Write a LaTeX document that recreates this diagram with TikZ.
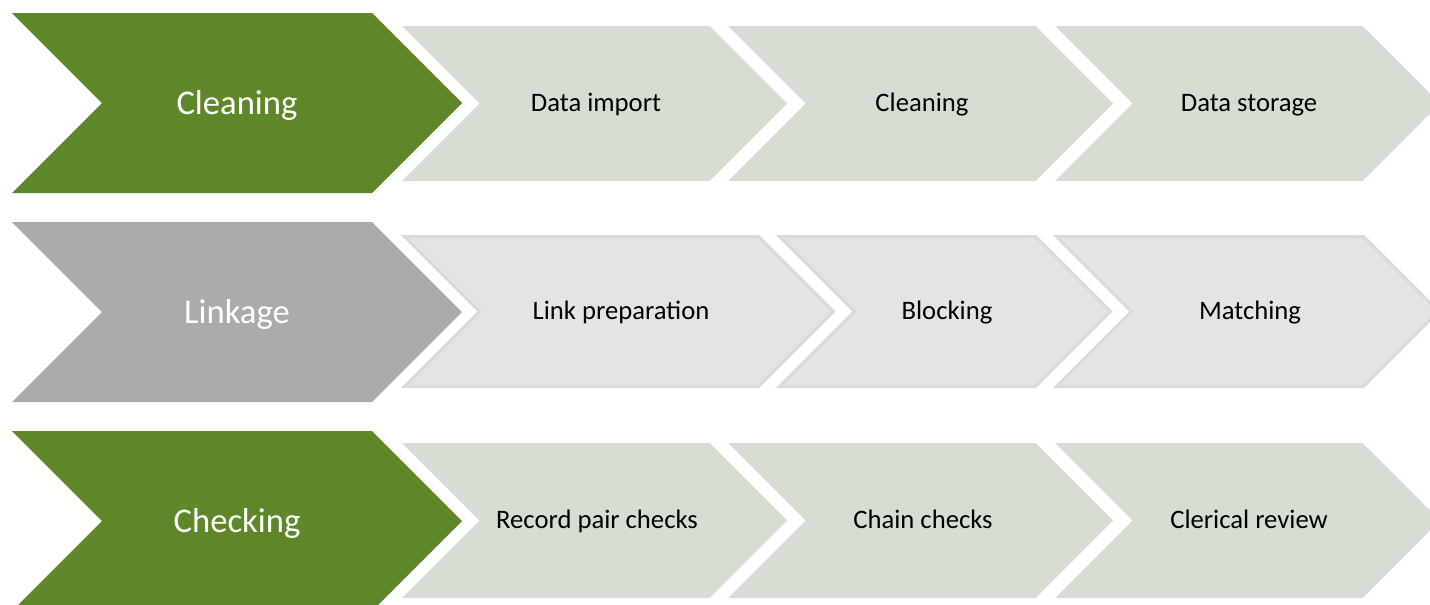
\documentclass[tikz,border=0pt]{standalone}
\usepackage{fontspec}
\setmainfont{Carlito}

\definecolor{phasegreen}{RGB}{94,135,41}
\definecolor{phasegrey}{RGB}{171,171,173}
\definecolor{stepsage}{RGB}{214,221,211}
\definecolor{steplight}{RGB}{228,228,228}

% chevron: style, left x, tip x, middle y, half height
\newcommand{\chevron}[5]{%
  \path[#1] (#2,#4-#5) -- (#3-#5,#4-#5) -- (#3,#4) -- (#3-#5,#4+#5)
    -- (#2,#4+#5) -- (#2+#5,#4) -- cycle;}

\begin{document}
\begin{tikzpicture}[x=0.75pt, y=-0.75pt,
    phase/.style={fill=phasegreen},
    phasegrey/.style={fill=phasegrey},
    stepbox/.style={fill=stepsage},
    steplink/.style={fill=steplight, draw=stepsage, line width=2.25pt, line join=miter},
    phaselabel/.style={anchor=base, text=white, font=\fontsize{26}{31}\selectfont},
    steplabel/.style={anchor=base, text=black, font=\fontsize{20}{24}\selectfont}]
  \useasboundingbox (0,0) rectangle (1430,604);
  \clip (0,0) rectangle (1430,604);

  % Cleaning row
  \chevron{phase}{12}{462}{103}{90}
  \chevron{stepbox}{402}{787}{103.5}{77.5}
  \chevron{stepbox}{728}{1113}{103.5}{77.5}
  \chevron{stepbox}{1055}{1440}{103.5}{77.5}
  \node[phaselabel] (clean) at (237,114) {Cleaning};
  \node[steplabel] (import) at (596,111) {Data import};
  \node[steplabel] (cleanstep) at (922,111) {Cleaning};
  \node[steplabel] (storage) at (1249,111) {Data storage};

  % Linkage row
  \chevron{phasegrey}{12}{462}{312}{90}
  \chevron{steplink}{404.5}{833.5}{311.5}{75}
  \chevron{steplink}{779.5}{1110.5}{311.5}{75}
  \chevron{steplink}{1056.5}{1438.5}{311.5}{75}
  \node[phaselabel] (link) at (237,323) {Linkage};
  \node[steplabel] (prep) at (621,319) {Link preparation};
  \node[steplabel] (block) at (947,319) {Blocking};
  \node[steplabel] (match) at (1250,319) {Matching};

  % Checking row
  \chevron{phase}{12}{462}{521}{90}
  \chevron{stepbox}{402}{787}{520.5}{77.5}
  \chevron{stepbox}{728}{1113}{520.5}{77.5}
  \chevron{stepbox}{1055}{1440}{520.5}{77.5}
  \node[phaselabel] (check) at (237,532) {Checking};
  \node[steplabel] (pairs) at (597,528) {Record pair checks};
  \node[steplabel] (chains) at (923,528) {Chain checks};
  \node[steplabel] (review) at (1249,528) {Clerical review};
\end{tikzpicture}
\end{document}
